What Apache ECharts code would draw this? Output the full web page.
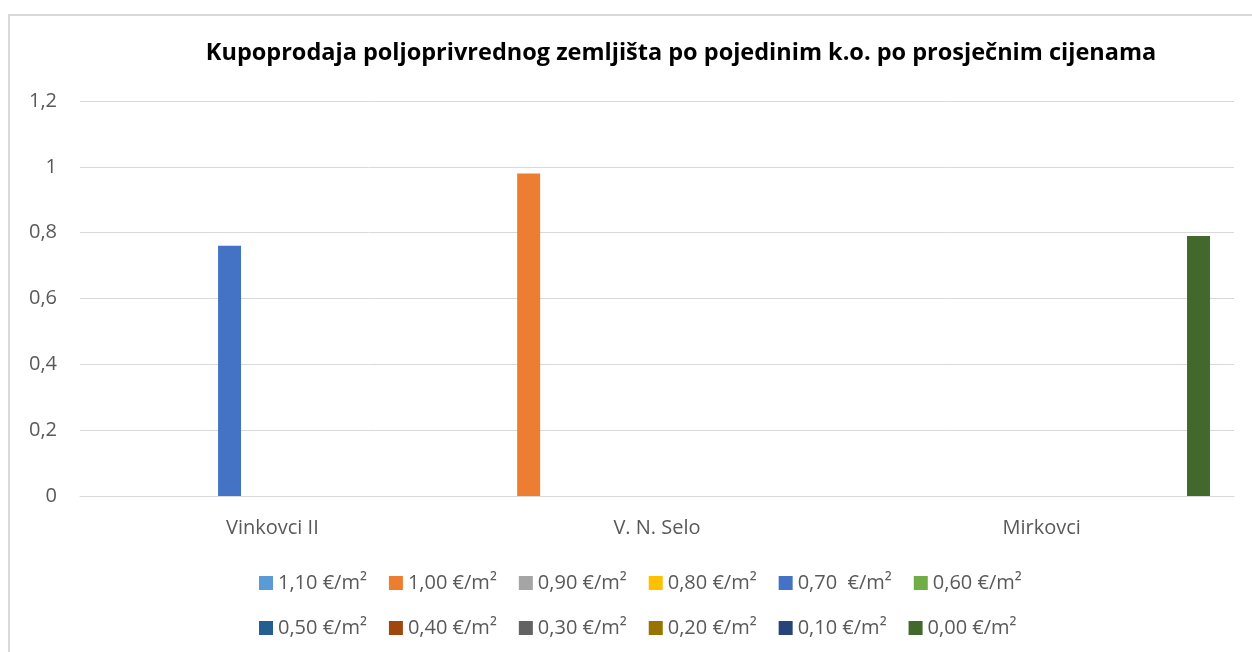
<!DOCTYPE html>
<html>
<head>
<meta charset="utf-8">
<script src="https://cdn.jsdelivr.net/npm/echarts@6/dist/echarts.min.js"></script>
<style>
html,body{margin:0;padding:0;background:#fff;}
#chart{width:1252px;height:652px;}
</style>
</head>
<body>
<div id="chart"></div>
<script>
const titleText = 'Kupoprodaja poljoprivrednog zemljišta po pojedinim k.o. po prosječnim cijenama';
const categories = ['Vinkovci II', 'V. N. Selo', 'Mirkovci'];
const seriesNames = ['1,10 €/m²', '1,00 €/m²', '0,90 €/m²', '0,80 €/m²', '0,70  €/m²', '0,60 €/m²',
                     '0,50 €/m²', '0,40 €/m²', '0,30 €/m²', '0,20 €/m²', '0,10 €/m²', '0,00 €/m²'];
const seriesColors = ['#5B9BD5', '#ED7D31', '#A5A5A5', '#FFC000', '#4472C4', '#70AD47',
                      '#255E91', '#9E480E', '#636363', '#997300', '#264478', '#43682B'];
const v110 = [null, null, null];
const v100 = [null, 0.98, null];
const v090 = [null, null, null];
const v080 = [null, null, null];
const v070 = [0.76, null, null];
const v060 = [null, null, null];
const v050 = [null, null, null];
const v040 = [null, null, null];
const v030 = [null, null, null];
const v020 = [null, null, null];
const v010 = [null, null, null];
const v000 = [null, null, 0.79];
const seriesValues = [v110, v100, v090, v080, v070, v060, v050, v040, v030, v020, v010, v000];
const yMin = 0, yMax = 1.2, yStep = 0.2;

const FONT = '"Open Sans", "Liberation Sans", sans-serif';
const chart = echarts.init(document.getElementById('chart'));
const legendText = {fontFamily: FONT, fontSize: 20, color: '#595959'};
chart.setOption({
  animation: false,
  backgroundColor: '#fff',
  graphic: [
    {type: 'rect', shape: {x: 9, y: 15, width: 1400, height: 800},
     style: {fill: 'none', stroke: '#d9d9d9', lineWidth: 2}, silent: true},
    {type: 'text', x: 681, y: 53,
     style: {text: titleText, textAlign: 'center', textVerticalAlign: 'middle',
             font: 'bold 23.5px ' + FONT, fill: '#000'}}
  ],
  grid: {left: 80, right: 18, top: 101, bottom: 156, containLabel: false},
  xAxis: {
    type: 'category', data: categories,
    axisLine: {lineStyle: {color: '#d9d9d9', width: 1}},
    axisTick: {show: false},
    axisLabel: {fontFamily: FONT, fontSize: 20, color: '#595959', margin: 22}
  },
  yAxis: {
    type: 'value', min: yMin, max: yMax, interval: yStep,
    axisLine: {show: false}, axisTick: {show: false},
    splitLine: {lineStyle: {color: '#d9d9d9', width: 1}},
    axisLabel: {fontFamily: FONT, fontSize: 20, color: '#595959', margin: 23,
                formatter: v => String(+v.toFixed(1)).replace('.', ',')}
  },
  legend: [
    {data: seriesNames.slice(0, 6), left: 259, top: 573, itemWidth: 14, itemHeight: 14,
     itemGap: 22, icon: 'rect', textStyle: legendText, padding: 0},
    {data: seriesNames.slice(6), left: 259, top: 618, itemWidth: 14, itemHeight: 14,
     itemGap: 22, icon: 'rect', textStyle: legendText, padding: 0}
  ],
  series: seriesNames.map((n, i) => ({
    name: n, type: 'bar', data: seriesValues[i],
    barWidth: 23, barGap: '24%',
    itemStyle: {color: seriesColors[i]}
  }))
});
</script>
</body>
</html>
